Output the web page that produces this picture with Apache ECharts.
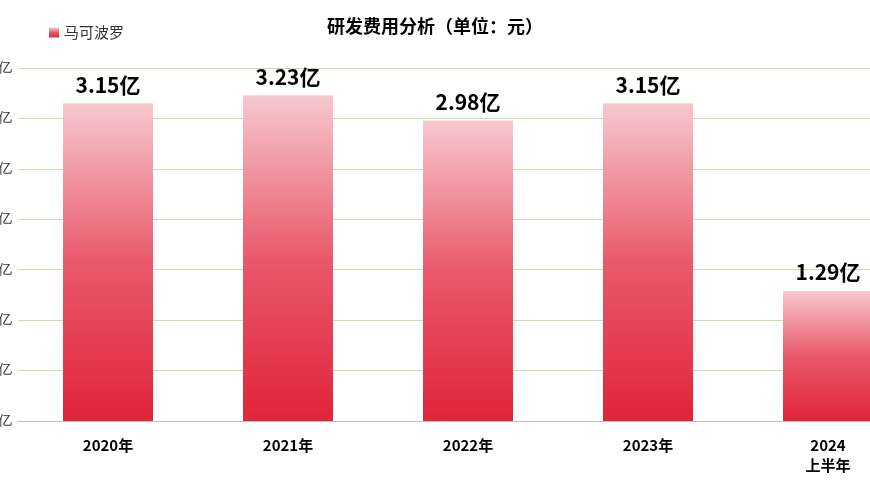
<!DOCTYPE html>
<html><head><meta charset="utf-8">
<script src="https://cdn.jsdelivr.net/npm/echarts@6/dist/echarts.min.js"></script>
<style>html,body{margin:0;padding:0;background:#fff}#main{width:870px;height:492px}</style>
</head><body><div id="main"></div>
<script>
let categories = ['2020年', '2021年', '2022年', '2023年', '2024\n上半年'];
let values = [3.15, 3.23, 2.98, 3.15, 1.29];
let seriesName = '马可波罗';

let chart = echarts.init(document.getElementById('main'));
let option = {
    title: {
        text: '{b|研发费用分析}{n|（单位：元）}',
        left: 'center',
        top: 12,
        textStyle: {
            rich: {
                b: {fontSize: 18, fontWeight: 'bold', color: '#000', fontFamily: 'Noto Sans CJK SC'},
                n: {fontSize: 18, color: '#000', fontFamily: 'Noto Sans CJK SC'}
            }
        }
    },
    legend: {
        left: 44,
        top: 20,
        itemWidth: 10,
        itemHeight: 10,
        icon: 'rect',
        textStyle: {fontSize: 15, color: '#333', fontFamily: 'Noto Sans CJK SC'},
        data: [seriesName]
    },
    grid: {left: 18, right: -48, top: 68, bottom: 71, containLabel: false, outerBoundsMode: 'none'},
    xAxis: {
        type: 'category',
        data: categories,
        axisTick: {show: false},
        axisLine: {lineStyle: {color: '#bfbfbf'}},
        axisLabel: {fontSize: 15, fontWeight: 'bold', color: '#000', margin: 14, lineHeight: 20, fontFamily: 'Noto Sans CJK SC'}
    },
    yAxis: {
        type: 'value',
        min: 0,
        max: 3.5,
        interval: 0.5,
        axisLabel: {
            fontSize: 14, color: '#333', margin: 6,
            formatter: v => v === 0 ? '0亿' : v.toFixed(1) + '亿'
        },
        splitLine: {lineStyle: {color: '#c5e0b4'}}
    },
    series: [{
        name: seriesName,
        type: 'bar',
        barWidth: 90,
        data: values,
        itemStyle: {
            color: new echarts.graphic.LinearGradient(0, 0, 0, 1, [
                {offset: 0, color: '#f7c9cf'},
                {offset: 0.5, color: '#e9596b'},
                {offset: 1, color: '#e0243a'}
            ])
        },
        label: {
            show: true,
            position: 'top',
            distance: 8,
            fontSize: 21,
            fontWeight: 'bold',
            color: '#000',
            fontFamily: 'Noto Sans CJK SC',
            formatter: p => p.value.toFixed(2) + '亿'
        }
    }]
};
chart.setOption(option);
</script></body></html>
